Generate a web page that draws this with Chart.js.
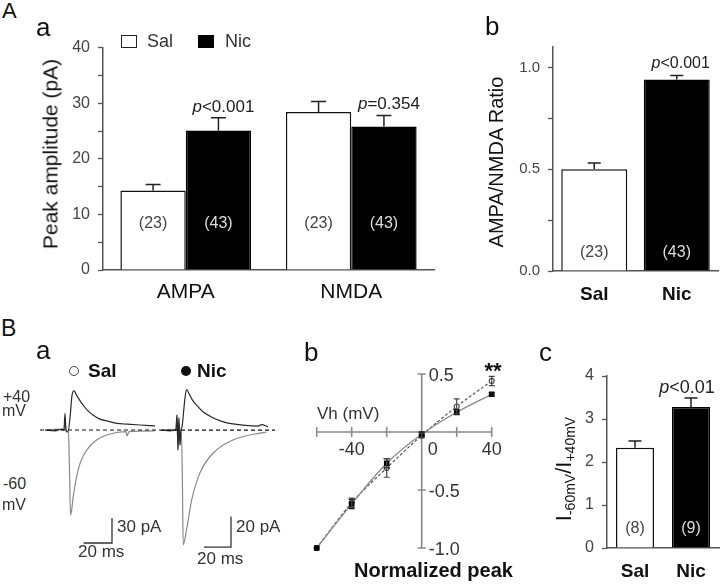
<!DOCTYPE html>
<html>
<head>
<meta charset="utf-8">
<script src="https://cdn.jsdelivr.net/npm/chart.js@4.4.1/dist/chart.umd.min.js"></script>
<style>
  body { margin: 0; background: #fff; }
  #fig { position: relative; width: 720px; height: 585px; overflow: hidden;
         font-family: "Liberation Sans", Arial, sans-serif; color: #111; }
  canvas { position: absolute; }
  .t { position: absolute; line-height: 1; white-space: nowrap; }
  .rot { position: absolute; line-height: 1; white-space: nowrap;
         transform: translate(-50%, -50%) rotate(-90deg); }
  .rot sub { font-size: 14px; vertical-align: -4px; }
</style>
</head>
<body>
<div id="fig">
  <canvas id="cAa" width="410" height="280" style="left:30px;top:30px"></canvas>
  <canvas id="cAb" width="280" height="280" style="left:440px;top:30px"></canvas>
  <canvas id="cSal" width="120" height="185" style="left:40px;top:380px"></canvas>
  <canvas id="cNic" width="115" height="185" style="left:160px;top:380px"></canvas>
  <canvas id="cBb" width="230" height="240" style="left:290px;top:340px"></canvas>
  <canvas id="cBc" width="190" height="230" style="left:530px;top:350px"></canvas>

  <div class="t" style="left:2px;top:0;font-size:22px">A</div>
  <div class="t" style="left:36px;top:14px;font-size:26px">a</div>
  <div class="t" style="left:121px;top:35px;width:16px;height:13px;border:1.3px solid #222;box-sizing:border-box"></div>
  <div class="t" style="left:147px;top:32px;font-size:18px;color:#333">Sal</div>
  <div class="t" style="left:198px;top:35px;width:16px;height:13px;background:#000"></div>
  <div class="t" style="left:225px;top:32px;font-size:18px;color:#333">Nic</div>
  <div class="rot" style="left:50px;top:154px;font-size:21px">Peak amplitude (pA)</div>

  <div class="t" style="left:485px;top:13px;font-size:26px">b</div>
  <div class="rot" style="left:496px;top:162px;font-size:20px">AMPA/NMDA Ratio</div>

  <div class="t" style="left:1px;top:317px;font-size:23px">B</div>
  <div class="t" style="left:36px;top:337px;font-size:26px">a</div>
  <div class="t" style="left:69px;top:366px;width:10px;height:10px;border:1.3px solid #444;border-radius:50%;box-sizing:border-box"></div>
  <div class="t" style="left:88px;top:361px;font-size:19px;font-weight:bold">Sal</div>
  <div class="t" style="left:181px;top:366px;width:10px;height:10px;background:#111;border-radius:50%"></div>
  <div class="t" style="left:197px;top:361px;font-size:19px;font-weight:bold">Nic</div>
  <div class="t" style="left:3px;top:389px;font-size:16px;color:#333">+40</div>
  <div class="t" style="left:2px;top:403px;font-size:16px;color:#333">mV</div>
  <div class="t" style="left:3px;top:476px;font-size:16px;color:#333">-60</div>
  <div class="t" style="left:2px;top:497px;font-size:16px;color:#333">mV</div>
  <div class="t" style="left:117px;top:518px;font-size:17px;color:#333">30 pA</div>
  <div class="t" style="left:78px;top:543px;font-size:17px;color:#333">20 ms</div>
  <div class="t" style="left:236px;top:518px;font-size:17px;color:#333">20 pA</div>
  <div class="t" style="left:197px;top:550px;font-size:17px;color:#333">20 ms</div>

  <div class="t" style="left:304px;top:339px;font-size:26px">b</div>
  <div class="t" style="left:317px;top:405px;font-size:17px;color:#333">Vh (mV)</div>
  <div class="t" style="left:493px;top:360px;font-size:22px;font-weight:bold;transform:translateX(-50%)">**</div>
  <div class="t" style="left:354px;top:560px;font-size:20px;font-weight:bold">Normalized peak</div>

  <div class="t" style="left:539px;top:339px;font-size:26px">c</div>
  <div class="rot" style="left:565px;top:469px;font-size:22px">I<sub>-60mV</sub>/I<sub>+40mV</sub></div>
</div>
<script>
// ---- A a: peak amplitudes
const groupLabels = ["AMPA", "NMDA"];
const salAmp = [14.3, 28.4];
const salAmpErr = [1.1, 1.9];
const nicAmp = [25.1, 25.8];
const nicAmpErr = [2.3, 2.0];
const salAmpN = ["(23)", "(23)"];
const nicAmpN = ["(43)", "(43)"];
const nicAmpP = ["<0.001", "=0.354"];

// ---- A b: AMPA/NMDA ratio
const groupNames = ["Sal", "Nic"];
const ratioVals = [0.50, 0.94];
const ratioErr = [0.03, 0.02];
const ratioN = ["(23)", "(43)"];
const ratioP = [null, "<0.001"];

// ---- B b: normalized I-V
const vh = [-60, -40, -20, 0, 20, 40];
const salIV = [-1.0, -0.61, -0.31, -0.03, 0.22, 0.44];
const salIVErr = [0, 0.04, 0.08, 0.02, 0.065, 0.04];
const nicIV = [-1.0, -0.62, -0.27, -0.02, 0.17, 0.325];
const nicIVErr = [0, 0.04, 0.04, 0.02, 0.02, 0.015];
const ivXTicks = [-60, -40, -20, 0, 20, 40];
const ivXLabels = ["", "-40", "", "0", "", "40"];
const ivYTicks = [0.5, -0.5, -1.0];
const ivYLabels = ["0.5", "-0.5", "-1.0"];

// ---- B c: I-60 / I+40
const rectVals = [2.33, 3.28];
const rectErr = [0.16, 0.21];
const rectN = ["(8)", "(9)"];
const rectP = [null, "<0.01"];

// ---- B a: example traces (ms, pA)
const salT40 = [-15.5, -8.5, -3.5, -2.1, -1.4, -0.7, 0.7, 2.1, 3.5, 4.9, 7.0, 11.3, 14.8, 18.3, 23.2, 28.2, 35.2, 42.3, 51.4, 62];
const salI40 = [0, -1, 1, 0, 20, 0, -2, 14, 41, 47, 41, 30, 23, 18, 13, 11, 8, 7, 6, 5];
const salT60 = [-15.5, -6, -2.1, -1.4, -0.7, 1.0, 1.8, 2.5, 3.3, 4.4, 6.8, 9.2, 13.9, 20.9, 28, 35.2, 41.5, 42.3, 43.7, 62];
const salI60 = [0, 1, 0, 12, -2, -3, -50, -102, -96, -80, -56, -40, -24, -12, -6, -3, -2, -7, -2, -1];
const nicT40 = [-11.9, -6, -1.5, -0.7, 0, 0.7, 1.5, 2.2, 3.0, 4.4, 5.2, 6.4, 8.1, 10.4, 14.1, 18.5, 25.9, 33, 40.7, 50, 59.3, 62.2, 66.7];
const nicI40 = [0, -0.5, 0.3, 9.8, -13, 7.8, -9.8, 0, 2, 14, 21, 26.5, 24, 20, 16, 12, 8, 5.5, 4, 3, 2.6, 3.5, 2];
const nicT60 = [-11.9, -5, -1.5, -0.7, 0, 0.7, 1.5, 2.6, 3.3, 3.9, 6.4, 10.1, 16.3, 26.1, 40.7, 60.7, 65.7];
const nicI60 = [0, 0.5, 0, 9.8, -13, 7.8, -9.8, -1, -35, -75, -65, -46, -28, -15, -6.5, -2, -1.3];
const salBar = { ms: 20, pA: 30, t: 11.7, i: -135.6 };
const nicBar = { ms: 20, pA: 20, t: 19.3, i: -76.5 };

Chart.defaults.font.family = '"Liberation Sans", Arial, sans-serif';

const pts = (xs, ys) => xs.map((x, i) => ({ x: x, y: ys[i] }));

// error bars, n labels and p labels on bar charts
const barNotes = {
  id: "barNotes",
  afterDatasetsDraw(chart, args, o) {
    const ctx = chart.ctx;
    const ys = chart.scales.y;
    chart.data.datasets.forEach((ds, di) => {
      chart.getDatasetMeta(di).data.forEach((bar, i) => {
        const top = ys.getPixelForValue(ds.data[i]);
        const errTop = ys.getPixelForValue(ds.data[i] + ds.errUp[i]);
        ctx.save();
        ctx.strokeStyle = "#222";
        ctx.lineWidth = 1.5;
        ctx.beginPath();
        ctx.moveTo(bar.x, top);
        ctx.lineTo(bar.x, errTop);
        ctx.moveTo(bar.x - o.cap / 2, errTop);
        ctx.lineTo(bar.x + o.cap / 2, errTop);
        ctx.stroke();

        ctx.font = "16px " + Chart.defaults.font.family;
        ctx.textAlign = "center";
        ctx.textBaseline = "middle";
        const nc = Array.isArray(ds.nColor) ? ds.nColor[i] : ds.nColor;
        ctx.fillStyle = nc;
        ctx.fillText(ds.nText[i], bar.x, ys.getPixelForValue(0) - o.nRise);

        if (ds.pText && ds.pText[i]) {
          const f1 = "italic " + o.pSize + "px " + Chart.defaults.font.family;
          const f2 = o.pSize + "px " + Chart.defaults.font.family;
          ctx.font = f1;
          const w1 = ctx.measureText("p").width;
          ctx.font = f2;
          const w2 = ctx.measureText(ds.pText[i]).width;
          const x0 = bar.x + o.pShift - (w1 + w2) / 2;
          const yb = errTop - o.pGap;
          ctx.fillStyle = "#222";
          ctx.textAlign = "left";
          ctx.textBaseline = "alphabetic";
          ctx.font = f1;
          ctx.fillText("p", x0, yb);
          ctx.font = f2;
          ctx.fillText(ds.pText[i], x0 + w1, yb);
        }
        ctx.restore();
      });
    });
  }
};

function barChart(id, cfg) {
  return new Chart(document.getElementById(id), {
    type: "bar",
    data: { labels: cfg.labels, datasets: cfg.datasets },
    options: {
      responsive: false,
      animation: false,
      layout: { padding: { top: cfg.padTop, right: cfg.padRight, left: 0, bottom: 0 } },
      plugins: { legend: { display: false }, tooltip: { enabled: false }, barNotes: cfg.notes },
      scales: {
        x: {
          grid: { display: false, drawTicks: false },
          border: { color: "#555", width: 1.5 },
          ticks: { color: "#111", font: cfg.xFont, padding: cfg.xPad },
          afterFit: (s) => { s.height = cfg.xH; }
        },
        y: {
          min: 0,
          max: cfg.max,
          grid: { drawOnChartArea: false, tickLength: 5, color: "#555", tickWidth: 1.3 },
          border: { color: "#555", width: 1.5 },
          ticks: { stepSize: cfg.step, includeBounds: false, color: "#444", font: { size: cfg.tickSize },
                   padding: 8, callback: cfg.tickFmt },
          afterFit: (s) => { s.width = cfg.yW; }
        }
      }
    },
    plugins: [barNotes]
  });
}

// A a
barChart("cAa", {
  labels: groupLabels,
  datasets: [
    { data: salAmp, errUp: salAmpErr, nText: salAmpN, nColor: "#444",
      backgroundColor: "#fff", borderColor: "#111", borderWidth: 1.5,
      categoryPercentage: 0.79, barPercentage: 1.0 },
    { data: nicAmp, errUp: nicAmpErr, nText: nicAmpN, nColor: "#ddd", pText: nicAmpP,
      backgroundColor: "#000", borderColor: "#000", borderWidth: 1.5,
      categoryPercentage: 0.79, barPercentage: 1.0 }
  ],
  padTop: 15, padRight: 6, yW: 73, xH: 40, max: 40, step: 5, tickSize: 16,
  tickFmt: (v) => (v % 10 === 0 ? v : ""),
  xFont: { size: 21 }, xPad: 10,
  notes: { cap: 15, nRise: 46, pSize: 17, pGap: 6, pShift: 5 }
});

// A b
barChart("cAb", {
  labels: groupNames,
  datasets: [
    { data: ratioVals, errUp: ratioErr, nText: ratioN, nColor: ["#444", "#ddd"], pText: ratioP,
      backgroundColor: ["#fff", "#000"], borderColor: ["#111", "#000"], borderWidth: 1.5,
      categoryPercentage: 0.8, barPercentage: 1.0 }
  ],
  padTop: 13, padRight: 2, yW: 113, xH: 39, max: 1.1, step: 0.25, tickSize: 15,
  tickFmt: (v) => (Math.round(v * 100) % 50 === 0 ? v.toFixed(1) : ""),
  xFont: { size: 19, weight: "bold" }, xPad: 12,
  notes: { cap: 13, nRise: 18, pSize: 16, pGap: 8, pShift: 4 }
});

// B c
barChart("cBc", {
  labels: groupNames,
  datasets: [
    { data: rectVals, errUp: rectErr, nText: rectN, nColor: ["#444", "#ddd"], pText: rectP,
      backgroundColor: ["#fff", "#000"], borderColor: ["#111", "#000"], borderWidth: 1.5,
      categoryPercentage: 0.68, barPercentage: 1.0 }
  ],
  padTop: 26, padRight: 1, yW: 77, xH: 32, max: 4, step: 1, tickSize: 16,
  tickFmt: (v) => v,
  xFont: { size: 19, weight: "bold" }, xPad: 12,
  notes: { cap: 13, nRise: 19, pSize: 18, pGap: 5, pShift: -4 }
});

// B a traces
function traceChart(id, xr, yr, t40, i40, t60, i60, sb) {
  return new Chart(document.getElementById(id), {
    type: "scatter",
    data: {
      datasets: [
        { data: pts([xr[0], xr[1]], [0, 0]), borderColor: "#111", borderWidth: 1.2, borderDash: [4, 3] },
        { data: pts(t40, i40), borderColor: "#2a2a2a", borderWidth: 1.2 },
        { data: pts(t60, i60), borderColor: "#888", borderWidth: 1.2 },
        { data: pts([sb.t, sb.t + sb.ms, sb.t + sb.ms], [sb.i, sb.i, sb.i + sb.pA]),
          borderColor: "#333", borderWidth: 1.3 }
      ].map((d) => Object.assign(d, { showLine: true, pointRadius: 0, cubicInterpolationMode: "monotone" }))
    },
    options: {
      responsive: false,
      animation: false,
      layout: { padding: 0 },
      plugins: { legend: { display: false }, tooltip: { enabled: false } },
      scales: {
        x: { display: false, min: xr[0], max: xr[1] },
        y: { display: false, min: yr[0], max: yr[1] }
      }
    }
  });
}
traceChart("cSal", [-19.0, 65.5], [-162, 60], salT40, salI40, salT60, salI60, salBar);
traceChart("cNic", [-13.3, 71.9], [-88.2, 32.7], nicT40, nicI40, nicT60, nicI60, nicBar);

// B b crossing axes
const crossAxes = {
  id: "crossAxes",
  beforeDatasetsDraw(chart, args, o) {
    const { ctx, scales: { x, y } } = chart;
    const x0 = x.getPixelForValue(0);
    const y0 = y.getPixelForValue(0);
    ctx.save();
    ctx.strokeStyle = "#888";
    ctx.lineWidth = 1.6;
    ctx.beginPath();
    ctx.moveTo(x.getPixelForValue(ivXTicks[0]), y0);
    ctx.lineTo(x.getPixelForValue(ivXTicks[ivXTicks.length - 1]), y0);
    ctx.moveTo(x0, y.getPixelForValue(ivYTicks[0]));
    ctx.lineTo(x0, y.getPixelForValue(ivYTicks[ivYTicks.length - 1]));
    ivXTicks.forEach((v) => {
      const px = x.getPixelForValue(v);
      ctx.moveTo(px, y0 - 5);
      ctx.lineTo(px, y0 + 5);
    });
    ivYTicks.forEach((v) => {
      const py = y.getPixelForValue(v);
      ctx.moveTo(x0 - 4, py);
      ctx.lineTo(x0 + 4, py);
    });
    ctx.stroke();
    ctx.fillStyle = "#333";
    ctx.font = "18px " + Chart.defaults.font.family;
    ctx.textBaseline = "alphabetic";
    ctx.textAlign = "center";
    ivXTicks.forEach((v, i) => {
      const shift = v === 0 ? o.zeroShift : 0;
      ctx.fillText(ivXLabels[i], x.getPixelForValue(v) + shift, y0 + 23);
    });
    ctx.textAlign = "left";
    ivYTicks.forEach((v, i) => {
      ctx.fillText(ivYLabels[i], x0 + 7, y.getPixelForValue(v) + 6.5);
    });
    ctx.restore();
  },
  afterDatasetsDraw(chart) {
    const { ctx, scales: { x, y } } = chart;
    ctx.save();
    chart.data.datasets.forEach((ds) => {
      ctx.strokeStyle = ds.errColor;
      ctx.lineWidth = 1.2;
      ctx.beginPath();
      ds.data.forEach((p, i) => {
        const e = ds.errBoth[i];
        if (!e) return;
        const px = x.getPixelForValue(p.x);
        const a = y.getPixelForValue(p.y + e);
        const b = y.getPixelForValue(p.y - e);
        ctx.moveTo(px, a); ctx.lineTo(px, b);
        ctx.moveTo(px - 3, a); ctx.lineTo(px + 3, a);
        ctx.moveTo(px - 3, b); ctx.lineTo(px + 3, b);
      });
      ctx.stroke();
    });
    ctx.restore();
  }
};

new Chart(document.getElementById("cBb"), {
  type: "scatter",
  data: {
    datasets: [
      { label: "Nic", data: pts(vh, nicIV), errBoth: nicIVErr, errColor: "#111",
        showLine: true, borderColor: "#888", borderWidth: 1.3, cubicInterpolationMode: "monotone",
        pointStyle: "rect", pointRadius: 3, pointBackgroundColor: "#000", pointBorderColor: "#000", clip: false },
      { label: "Sal", data: pts(vh, salIV), errBoth: salIVErr, errColor: "#444",
        showLine: true, borderColor: "#555", borderWidth: 1.2, borderDash: [3, 2], cubicInterpolationMode: "monotone",
        pointStyle: "circle", pointRadius: 2.5, pointBackgroundColor: "#fff", pointBorderColor: "#555", clip: false }
    ]
  },
  options: {
    responsive: false,
    animation: false,
    layout: { padding: { left: 26.7, right: 28.3, top: 34, bottom: 32 } },
    plugins: { legend: { display: false }, tooltip: { enabled: false }, crossAxes: { zeroShift: 11 } },
    scales: {
      x: { display: false, min: -60, max: 40 },
      y: { display: false, min: -1, max: 0.5 }
    }
  },
  plugins: [crossAxes]
});
</script>
</body>
</html>
